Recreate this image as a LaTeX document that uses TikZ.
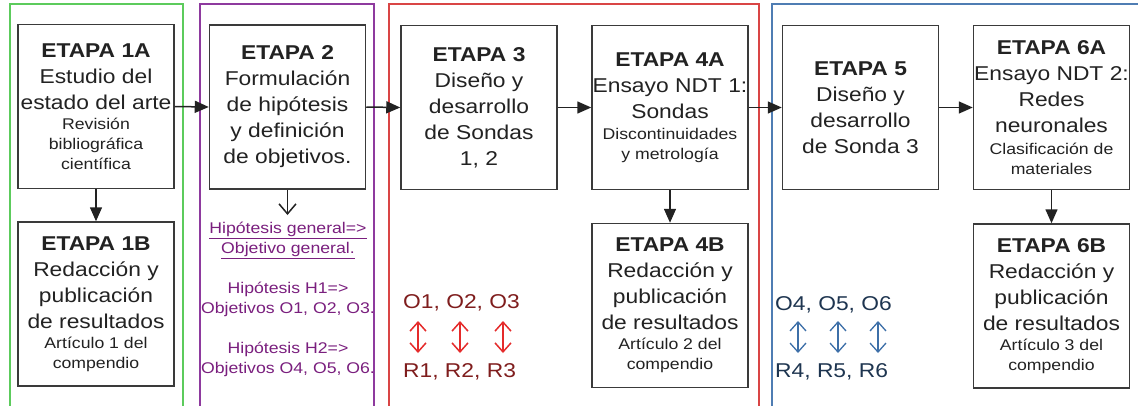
\documentclass[tikz,border=0pt]{standalone}
\usepackage{fontspec}
\setmainfont{Liberation Sans}[FakeStretch=1.14]
\usetikzlibrary{arrows.meta}
\definecolor{boxc}{HTML}{3A3A3A}
\definecolor{txt}{HTML}{222222}
\definecolor{fgreen}{HTML}{5CCB5C}
\definecolor{fpurple}{HTML}{8E3A9E}
\definecolor{fred}{HTML}{D94545}
\definecolor{fblue}{HTML}{4F7DB3}
\definecolor{hypc}{HTML}{7A1F7E}
\definecolor{ored}{HTML}{7F1D1D}
\definecolor{ared}{HTML}{E52B2B}
\definecolor{oblue}{HTML}{1E3550}
\definecolor{ablue}{HTML}{3D6FA8}
\newcommand{\sm}[1]{{\fontsize{15.5}{20}\selectfont #1}}
\newcommand{\eb}[1]{\textbf{#1}}
\begin{document}
\begin{tikzpicture}[x=1pt,y=-1pt,
 stagebox/.style={draw=boxc, line width=1.5pt, minimum width=156pt, minimum height=164pt, align=center, inner sep=0pt, text=txt, font=\fontsize{20}{26}\selectfont},
 frame/.style={line width=1.2pt},
 flow/.style={draw=txt, line width=1.5pt, -{Triangle[length=14pt,width=12pt]}},
 vtip/.style={-{Straight Barb[length=10pt,width=17pt,line width=1.5pt]}},
 dbl/.style={line width=1.5pt, {Straight Barb[length=9pt,width=16pt]}-{Straight Barb[length=9pt,width=16pt]}},
 obj/.style={anchor=base west, inner sep=0pt, font=\fontsize{20}{24}\selectfont},
]
\useasboundingbox (0,0) rectangle (1138,405);
\clip (0,0) rectangle (1138,405);
\fill[white] (0,0) rectangle (1138,405);
% frames
\draw[frame, draw=fgreen] (10,4) rectangle (183,420);
\draw[frame, draw=fpurple] (200,4) rectangle (374,420);
\draw[frame, draw=fred] (389,4) rectangle (759,420);
\draw[frame, draw=fblue] (772,4) rectangle (1150,420);
% stages
\node[stagebox] (e1a) at (96,106.5) {\eb{ETAPA 1A}\\Estudio del\\estado del arte\\[-6pt]\sm{Revisión}\\[-6pt]\sm{bibliográfica}\\[-6pt]\sm{científica}};
\node[stagebox] (e2) at (287.5,107) {\eb{ETAPA 2}\\Formulación\\de hipótesis\\y definición\\de objetivos.};
\node[stagebox] (e3) at (479,107.5) {\eb{ETAPA 3}\\Diseño y\\desarrollo\\de Sondas\\1, 2};
\node[stagebox] (e4a) at (670,107.5) {\eb{ETAPA 4A}\\Ensayo NDT 1:\\Sondas\\[-5pt]\sm{Discontinuidades}\\[-6pt]\sm{y metrología}};
\node[stagebox] (e5) at (860.5,107.5) {\eb{ETAPA 5}\\Diseño y\\desarrollo\\de Sonda 3};
\node[stagebox] (e6a) at (1051.5,107.5) {\eb{ETAPA 6A}\\Ensayo NDT 2:\\Redes\\neuronales\\[-4pt]\sm{Clasificación de}\\[-6pt]\sm{materiales}};
\node[stagebox] (e1b) at (96,304) {\eb{ETAPA 1B}\\Redacción y\\publicación\\de resultados\\[-6pt]\sm{Artículo 1 del}\\[-6pt]\sm{compendio}};
\node[stagebox] (e4b) at (670,305.5) {\eb{ETAPA 4B}\\Redacción y\\publicación\\de resultados\\[-6pt]\sm{Artículo 2 del}\\[-6pt]\sm{compendio}};
\node[stagebox] (e6b) at (1051.5,306) {\eb{ETAPA 6B}\\Redacción y\\publicación\\de resultados\\[-6pt]\sm{Artículo 3 del}\\[-6pt]\sm{compendio}};
% flow arrows
\draw[flow] (e1a.east) -- (e2.west);
\draw[flow] (e2.east) -- (e3.west);
\draw[flow] (e3.east) -- (e4a.west);
\draw[flow] (e4a.east) -- (e5.west);
\draw[flow] (e5.east) -- (e6a.west);
\draw[flow] (e1a.south) -- (e1b.north);
\draw[flow] (e4a.south) -- (e4b.north);
\draw[flow] (e6a.south) -- (e6b.north);
% hypotheses
\node[anchor=north, text=hypc, align=center, inner xsep=0pt, inner ysep=7pt, font=\fontsize{15.5}{20}\selectfont] (hyp) at (288,215) {\underline{Hipótesis general=>}\\\underline{Objetivo general.}\\[20pt]Hipótesis H1=>\\Objetivos O1, O2, O3.\\[20pt]Hipótesis H2=>\\Objetivos O4, O5, O6.};
\draw[draw=txt, line width=1.4pt, vtip] (e2.south) -- (e2.south |- hyp.north);
% objectives / results
\node[obj, text=ored] (o13) at (403,308) {O1, O2, O3};
\node[obj, text=ored] (r13) at (403,377) {R1, R2, R3};
\node[obj, text=oblue] (o46) at (775,310) {O4, O5, O6};
\node[obj, text=oblue] (r46) at (775,377) {R4, R5, R6};
\coordinate (ra1) at (418,321); \coordinate (rb1) at (418,353);
\coordinate (ra2) at (460,321); \coordinate (rb2) at (460,353);
\coordinate (ra3) at (503,321); \coordinate (rb3) at (503,353);
\coordinate (ba1) at (798,321); \coordinate (bb1) at (798,353);
\coordinate (ba2) at (838,321); \coordinate (bb2) at (838,353);
\coordinate (ba3) at (878,321); \coordinate (bb3) at (878,353);
\draw[dbl, draw=ared] (ra1) -- (rb1);
\draw[dbl, draw=ared] (ra2) -- (rb2);
\draw[dbl, draw=ared] (ra3) -- (rb3);
\draw[dbl, draw=ablue, line width=1.3pt] (ba1) -- (bb1);
\draw[dbl, draw=ablue, line width=1.3pt] (ba2) -- (bb2);
\draw[dbl, draw=ablue, line width=1.3pt] (ba3) -- (bb3);
\end{tikzpicture}
\end{document}
